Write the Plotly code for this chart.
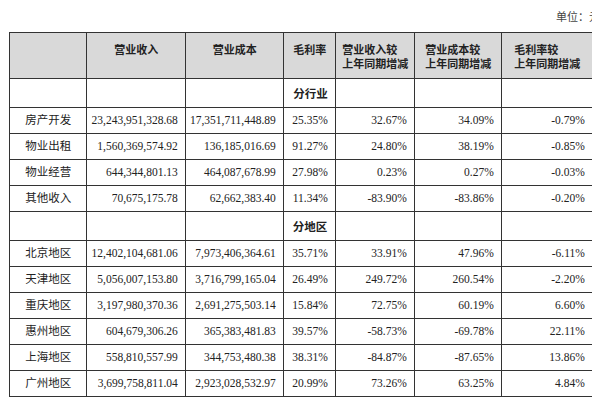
import plotly.graph_objects as go

header = ['', '<b>营业收入</b>', '<b>营业成本</b>', '<b>毛利率</b>',
          '<b>营业收入较<br>上年同期增减</b>', '<b>营业成本较<br>上年同期增减</b>', '<b>毛利率较<br>上年同期增减</b>']

names = ['', '房产开发', '物业出租', '物业经营', '其他收入',
         '', '北京地区', '天津地区', '重庆地区', '惠州地区', '上海地区', '广州地区']
revenue = ['', '23,243,951,328.68', '1,560,369,574.92', '644,344,801.13', '70,675,175.78',
           '', '12,402,104,681.06', '5,056,007,153.80', '3,197,980,370.36', '604,679,306.26',
           '558,810,557.99', '3,699,758,811.04']
cost = ['', '17,351,711,448.89', '136,185,016.69', '464,087,678.99', '62,662,383.40',
        '', '7,973,406,364.61', '3,716,799,165.04', '2,691,275,503.14', '365,383,481.83',
        '344,753,480.38', '2,923,028,532.97']
margin = ['<b>分行业</b>', '25.35%', '91.27%', '27.98%', '11.34%',
          '<b>分地区</b>', '35.71%', '26.49%', '15.84%', '39.57%', '38.31%', '20.99%']
rev_chg = ['', '32.67%', '24.80%', '0.23%', '-83.90%',
           '', '33.91%', '249.72%', '72.75%', '-58.73%', '-84.87%', '73.26%']
cost_chg = ['', '34.09%', '38.19%', '0.27%', '-83.86%',
            '', '47.96%', '260.54%', '60.19%', '-69.78%', '-87.65%', '63.25%']
margin_chg = ['', '-0.79%', '-0.85%', '-0.03%', '-0.20%',
              '', '-6.11%', '-2.20%', '6.60%', '22.11%', '13.86%', '4.84%']

fig = go.Figure(go.Table(
    domain=dict(x=[0.003, 0.975], y=[0, 0.94]),
    columnwidth=[77, 99, 98, 52, 79, 87, 91],
    header=dict(values=header, fill_color='#d9d9d9', line_color='#333333',
                align='center', height=46,
                font=dict(family='Noto Sans CJK SC', size=11, color='#222222')),
    cells=dict(values=[names, revenue, cost, margin, rev_chg, cost_chg, margin_chg],
               fill_color='white', line_color='#333333',
               align=['center', 'right', 'right', 'right', 'right', 'right', 'right'],
               height=26,
               font=dict(family='Liberation Serif, Noto Sans CJK SC', size=11.5, color='#222222')),
))
fig.add_annotation(x=0.99, y=1.005, xref='paper', yref='paper', xanchor='right', yanchor='top',
                   text='单位：元', showarrow=False,
                   font=dict(family='Noto Sans CJK SC', size=11, color='#444444'))
fig.update_layout(width=600, height=409, margin=dict(l=0, r=0, t=0, b=0),
                  paper_bgcolor='white')
fig.write_html("out.html")
